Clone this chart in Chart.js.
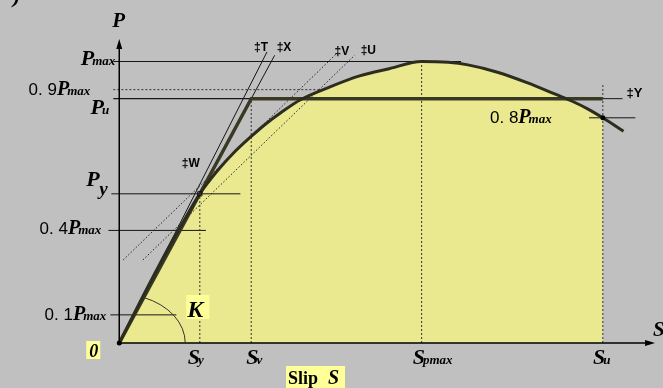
<!DOCTYPE html>
<html>
<head>
<meta charset="utf-8">
<script src="https://cdn.jsdelivr.net/npm/chart.js@4/dist/chart.umd.min.js"></script>
<style>
  html, body { margin: 0; padding: 0; background: #c0c0c0; }
  #c { display: block; }
</style>
</head>
<body>
<canvas id="c" width="663" height="388"></canvas>
<script>
// Load–slip curve of the connection (slip S, load P as a fraction of Pmax)
const CURVE_S = [0, 0.22, 0.48, 0.64, 0.818, 0.99, 1.16, 1.34, 1.49, 1.64, 1.84, 2.14, 2.44, 2.74, 3.07, 3.34, 3.54, 3.84, 4.14, 4.44, 4.61, 4.76, 4.91, 5.12];
const CURVE_P = [0, 0.152, 0.325, 0.425, 0.53, 0.609, 0.675, 0.734, 0.779, 0.818, 0.864, 0.910, 0.949, 0.9745, 1.0, 0.997, 0.988, 0.962, 0.925, 0.882, 0.857, 0.831, 0.80, 0.752];

// Characteristic load levels
const P_MAX = 1.0;
const P_09 = 0.9;
const P_08 = 0.8;
const P_04 = 0.4;
const P_01 = 0.1;
const P_Y = 0.53;
const P_U = 0.868;

// Characteristic slips
const S_Y = 0.818;
const S_V = 1.34;
const S_PMAX = 3.07;
const S_U = 4.91;

// Auxiliary straight lines (end points in S, P)
const LINE_T = [[0, 0], [1.50, 1.034]];      // initial stiffness
const LINE_X = [[S_V, P_U], [1.578, 1.022]];  // continuation of the yield line
const LINE_V = [[0.04, 0.295], [2.207, 1.028]];
const LINE_U = [[0.24, 0.295], [2.39, 1.022]];

// Horizontal guide extents
const GUIDE_LEFT = -0.06;
const PMAX_RIGHT = 3.47;
const P09_RIGHT = 2.07;
const PY_RIGHT = 1.23;
const P04_RANGE = [-0.11, 0.88];
const P01_RANGE = [-0.09, 0.58];
const P08_RANGE = [4.77, 5.24];
const PU_TAIL = 5.11;
const SU_TOP = 0.917;

// Axis extents
const S_AXIS_END = 5.44;
const P_AXIS_END = 1.08;

const INK = '#151515';
const THICK = '#3a3a24';
const CURVE = '#2c2c1f';
const FILL = '#ebe98f';
const HILITE = '#ffff99';

const SERIF = '"Liberation Serif", "DejaVu Serif", serif';
const SANS = '"Liberation Sans", "DejaVu Sans", sans-serif';

function pts(xs, ys) { return xs.map((x, i) => ({ x: x, y: ys[i] })); }
function seg(points, opts) {
  return Object.assign({
    data: points.map(p => ({ x: p[0], y: p[1] })),
    showLine: true,
    pointRadius: 0,
    borderColor: INK,
    borderWidth: 1,
    fill: false,
    clip: false,
    order: 10
  }, opts || {});
}

const fillS = CURVE_S.filter(s => s <= S_U);
const fillP = CURVE_P.slice(0, fillS.length);

const datasets = [
  // area under the curve up to ultimate slip
  {
    data: pts(fillS, fillP), showLine: true, pointRadius: 0, borderWidth: 0,
    backgroundColor: FILL, fill: 'origin', cubicInterpolationMode: 'monotone', clip: false, order: 30
  },
  // dotted verticals
  seg([[S_Y, 0], [S_Y, P_Y]], { borderDash: [2, 2], borderColor: '#333' }),
  seg([[S_V, 0], [S_V, P_U]], { borderDash: [2, 2], borderColor: '#333' }),
  seg([[S_PMAX, 0], [S_PMAX, P_MAX]], { borderDash: [2, 2], borderColor: '#333' }),
  seg([[S_U, 0], [S_U, SU_TOP]], { borderDash: [2, 2], borderColor: '#333' }),
  // horizontal guides
  seg([[GUIDE_LEFT, P_MAX], [PMAX_RIGHT, P_MAX]], { borderWidth: 1.2 }),
  seg([[GUIDE_LEFT, P_09], [P09_RIGHT, P_09]], { borderDash: [2, 2], borderColor: '#333' }),
  seg([[GUIDE_LEFT, P_U], [S_V, P_U]], { borderWidth: 1.2 }),
  seg([[S_U, P_U], [PU_TAIL, P_U]]),
  seg([[GUIDE_LEFT - 0.02, P_Y], [PY_RIGHT, P_Y]]),
  seg([[P04_RANGE[0], P_04], [P04_RANGE[1], P_04]]),
  seg([[P01_RANGE[0], P_01], [P01_RANGE[1], P_01]]),
  seg([[P08_RANGE[0], P_08], [P08_RANGE[1], P_08]]),
  // stiffness lines
  seg(LINE_T, { borderWidth: 1 }),
  seg(LINE_X, { borderWidth: 1 }),
  seg(LINE_V, { borderDash: [1.5, 2], borderColor: '#222' }),
  seg(LINE_U, { borderDash: [1.5, 2], borderColor: '#222' }),
  // idealised bilinear response
  seg([[0, 0], [S_V, P_U], [S_U, P_U]], { borderWidth: 3.5, borderColor: THICK, order: 2 }),
  // measured curve
  {
    data: pts(CURVE_S, CURVE_P), showLine: true, pointRadius: 0, borderWidth: 3,
    borderColor: CURVE, fill: false, cubicInterpolationMode: 'monotone', clip: false, order: 1
  },
  // marked points
  {
    data: [{ x: 0, y: 0 }, { x: S_U, y: P_08 }], showLine: false, pointRadius: 2.5,
    pointBackgroundColor: '#000', pointBorderWidth: 0, clip: false, order: 0
  },
  {
    data: [{ x: S_Y, y: P_Y }], showLine: false, pointRadius: 3, pointStyle: 'rect',
    pointBackgroundColor: 'rgba(0,0,0,0)', pointBorderColor: '#111', pointBorderWidth: 1, clip: false, order: 0
  }
];

// draws a run of differently styled text pieces; piece = [text, font, dy, dx]
function drawParts(ctx, parts, x, y, align) {
  let total = 0;
  const widths = parts.map(p => { ctx.font = p[1]; const w = ctx.measureText(p[0]).width + (p[3] || 0); total += w; return w; });
  let cx = align === 'right' ? x - total : align === 'center' ? x - total / 2 : x;
  parts.forEach((p, i) => {
    ctx.font = p[1];
    ctx.fillText(p[0], cx + (p[3] || 0), y + (p[2] || 0));
    cx += widths[i];
  });
}

const background = {
  id: 'background',
  beforeDraw(chart) {
    const ctx = chart.ctx;
    ctx.save();
    ctx.fillStyle = '#c0c0c0';
    ctx.fillRect(0, 0, chart.width, chart.height);
    ctx.restore();
  }
};

const annotations = {
  id: 'annotations',
  afterDatasetsDraw(chart) {
    const ctx = chart.ctx;
    const X = v => chart.scales.x.getPixelForValue(v);
    const Y = v => chart.scales.y.getPixelForValue(v);
    const ox = X(0), oy = Y(0);
    ctx.save();

    // axes with arrow heads
    ctx.strokeStyle = '#000';
    ctx.fillStyle = '#000';
    ctx.lineWidth = 1.5;
    ctx.beginPath();
    ctx.moveTo(ox, oy); ctx.lineTo(ox, Y(P_AXIS_END) + 4);
    ctx.moveTo(ox, oy); ctx.lineTo(X(S_AXIS_END) - 4, oy);
    ctx.stroke();
    ctx.beginPath();
    ctx.moveTo(ox, Y(P_AXIS_END)); ctx.lineTo(ox - 3, Y(P_AXIS_END) + 10); ctx.lineTo(ox + 3, Y(P_AXIS_END) + 10); ctx.closePath();
    ctx.fill();
    ctx.beginPath();
    ctx.moveTo(X(S_AXIS_END), oy); ctx.lineTo(X(S_AXIS_END) - 10, oy - 3); ctx.lineTo(X(S_AXIS_END) - 10, oy + 3); ctx.closePath();
    ctx.fill();

    // stiffness angle K
    const m = (oy - Y(P_U)) / (X(S_V) - ox);
    const rx = 66, ry = 49;
    const t = Math.atan(m * rx / ry);
    ctx.lineWidth = 1;
    ctx.strokeStyle = '#333';
    ctx.beginPath();
    ctx.ellipse(ox, oy, rx, ry, 0, -t, 0);
    ctx.stroke();

    // highlighted boxes
    ctx.fillStyle = HILITE;
    ctx.fillRect(ox - 33, oy - 2, 14, 18);
    ctx.fillRect(ox + 67, oy - 48, 23, 24);
    ctx.fillRect(286, 366, 59, 22);

    ctx.fillStyle = '#000';
    ctx.textBaseline = 'alphabetic';
    const BI = s => 'bold italic ' + s + 'px ' + SERIF;
    const DIG = '17px ' + SANS;

    // axis titles
    drawParts(ctx, [['P', BI(21)]], ox - 7, Y(P_AXIS_END) - 12, 'left');
    drawParts(ctx, [['S', BI(21)]], X(S_AXIS_END) - 2, oy - 7, 'left');
    drawParts(ctx, [[')', BI(22)]], 13, 3, 'left');

    // load levels on the P axis
    drawParts(ctx, [['P', BI(22)], ['max', BI(13), 0, -2]], ox - 4, Y(P_MAX) + 3, 'right');
    drawParts(ctx, [['0. 9', DIG], ['P', BI(20)], ['max', BI(13), 0, -2]], ox - 29, Y(P_09) + 5, 'right');
    drawParts(ctx, [['P', BI(22)], ['u', BI(13), 0, -2]], ox - 10, Y(P_U) + 15, 'right');
    drawParts(ctx, [['P', BI(22)]], ox - 33, Y(P_Y) - 8, 'left');
    drawParts(ctx, [['y', BI(19)]], ox - 20, Y(P_Y) + 1, 'left');
    drawParts(ctx, [['0. 4', DIG], ['P', BI(20)], ['max', BI(13), 0, -2]], ox - 18, Y(P_04) + 4, 'right');
    drawParts(ctx, [['0. 1', DIG], ['P', BI(20)], ['max', BI(13), 0, -2]], ox - 13, Y(P_01) + 5, 'right');
    drawParts(ctx, [['0. 8', DIG], ['P', BI(20)], ['max', BI(13), 0, -2]], 490, Y(P_08) + 5, 'left');
    drawParts(ctx, [['0', BI(18)]], ox - 30, oy + 14, 'left');
    drawParts(ctx, [['K', BI(24)]], ox + 68, oy - 26, 'left');

    // characteristic slips on the S axis
    drawParts(ctx, [['S', BI(22)], ['y', BI(13), 0, -2]], X(S_Y) - 4, oy + 21, 'center');
    drawParts(ctx, [['S', BI(22)], ['v', BI(13), 0, -2]], X(S_V) + 3, oy + 21, 'center');
    drawParts(ctx, [['S', BI(22)], ['pmax', BI(13), 0, -2]], X(S_PMAX) + 11, oy + 21, 'center');
    drawParts(ctx, [['S', BI(22)], ['u', BI(13), 0, -2]], X(S_U) - 1, oy + 21, 'center');
    drawParts(ctx, [['Slip', 'bold 18px ' + SERIF], ['  S', BI(20)]], 288, 384, 'left');

    // line tags
    const TAG = 'bold 12px ' + SANS;
    drawParts(ctx, [['\u2021T', TAG]], X(LINE_T[1][0]) - 13, Y(LINE_T[1][1]) - 1, 'left');
    drawParts(ctx, [['\u2021X', TAG]], X(LINE_X[1][0]) + 2, Y(LINE_X[1][1]) - 4, 'left');
    drawParts(ctx, [['\u2021V', TAG]], X(LINE_V[1][0]) - 2, Y(LINE_V[1][1]) + 1, 'left');
    drawParts(ctx, [['\u2021U', TAG]], X(LINE_U[1][0]) + 6, Y(LINE_U[1][1]) - 1, 'left');
    drawParts(ctx, [['\u2021W', TAG]], X(S_Y) - 18, Y(P_Y) - 27, 'left');
    drawParts(ctx, [['\u2021Y', 'bold 13px ' + SANS]], X(PU_TAIL) + 4, Y(P_U) - 2, 'left');

    ctx.restore();
  }
};

new Chart(document.getElementById('c'), {
  type: 'scatter',
  data: { datasets: datasets },
  options: {
    responsive: false,
    animation: false,
    devicePixelRatio: 1,
    layout: { padding: 0 },
    scales: {
      x: { type: 'linear', min: -1.16, max: 5.47, display: false },
      y: { type: 'linear', min: -0.142, max: 1.2007, display: false }
    },
    plugins: { legend: { display: false }, tooltip: { enabled: false } },
    elements: { line: { tension: 0 } }
  },
  plugins: [background, annotations]
});
</script>
</body>
</html>
